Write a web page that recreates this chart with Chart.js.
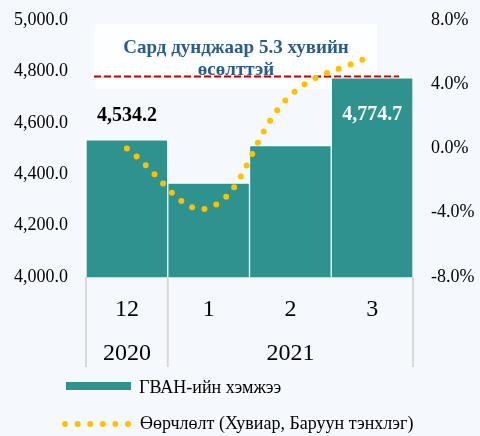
<!DOCTYPE html>
<html>
<head>
<meta charset="utf-8">
<script src="https://cdn.jsdelivr.net/npm/chart.js@4.4.1/dist/chart.umd.min.js"></script>
<style>
    html, body { margin: 0; padding: 0; background: #F5F8FC; }
    #wrap { width: 480px; height: 436px; }
</style>
</head>
<body>
<div id="wrap"><canvas id="gdpChart"></canvas></div>
<script>
// chart data
const months = ['12', '1', '2', '3'];
const yearGroups = ['2020', '2021'];
const yearSpans = [1, 3];              // how many months fall in each year
const gdpValues = [4534.2, 4365.0, 4511.0, 4774.7];
const changePct = [0.0, -3.7, 3.3, 5.8];
const avgLevel = 4780;
const noteLines = ['Сард дунджаар 5.3 хувийн', 'өсөлттэй'];
const seriesNames = ['ГВАН-ийн хэмжээ', 'Өөрчлөлт (Хувиар, Баруун тэнхлэг)'];

const SERIF = '"Liberation Serif", "DejaVu Serif", serif';
const TEAL = '#2E928E';
const GOLD = '#FFC000';

// white note box, dashed average line and its caption
const notePlugin = {
    id: 'note',
    beforeDatasetsDraw(chart) {
        const {ctx, chartArea, scales: {y}} = chart;
        const left = chartArea.left + 8;
        ctx.save();
        ctx.fillStyle = '#FDFEFF';
        ctx.fillRect(left, chartArea.top + 4, 283, 65);
        ctx.fillStyle = '#2B5B88';
        ctx.font = 'bold 19px ' + SERIF;
        ctx.textAlign = 'center';
        ctx.textBaseline = 'middle';
        ctx.fillText(noteLines[0], left + 142, chartArea.top + 28);
        ctx.fillText(noteLines[1], left + 142, chartArea.top + 50);
        const yAvg = y.getPixelForValue(avgLevel);
        ctx.strokeStyle = '#C00000';
        ctx.lineWidth = 2;
        ctx.setLineDash([7, 3]);
        ctx.beginPath();
        ctx.moveTo(left, yAvg);
        ctx.lineTo(chartArea.right - 14, yAvg);
        ctx.stroke();
        ctx.restore();
    }
};

// value labels on first and last bar
const valuePlugin = {
    id: 'values',
    afterDatasetsDraw(chart) {
        const {ctx} = chart;
        const meta = chart.getDatasetMeta(1);
        const fmt = v => v.toLocaleString('en-US', {minimumFractionDigits: 1, maximumFractionDigits: 1});
        ctx.save();
        ctx.font = 'bold 20px ' + SERIF;
        ctx.textAlign = 'center';
        ctx.textBaseline = 'middle';
        let bar = meta.data[0];
        ctx.fillStyle = '#000000';
        ctx.fillText(fmt(gdpValues[0]), bar.x, bar.y - 24);
        bar = meta.data[3];
        ctx.fillStyle = '#FFFFFF';
        ctx.fillText(fmt(gdpValues[3]), bar.x, bar.y + 37);
        ctx.restore();
    }
};

// year row under the month ticks, with separators
const yearAxisPlugin = {
    id: 'yearAxis',
    afterDraw(chart) {
        const {ctx, chartArea, scales: {x}} = chart;
        const half = (x.getPixelForValue(1) - x.getPixelForValue(0)) / 2;
        const top = chartArea.bottom;
        const bottom = x.bottom;
        const edges = [x.getPixelForValue(0) - half];
        ctx.save();
        ctx.fillStyle = '#000000';
        ctx.font = '24px ' + SERIF;
        ctx.textAlign = 'center';
        ctx.textBaseline = 'middle';
        let idx = 0;
        yearGroups.forEach((yr, i) => {
            const l = x.getPixelForValue(idx) - half;
            const r = x.getPixelForValue(idx + yearSpans[i] - 1) + half;
            ctx.fillText(yr, (l + r) / 2, top + 77);
            edges.push(r);
            idx += yearSpans[i];
        });
        ctx.strokeStyle = '#D9D9D9';
        ctx.lineWidth = 2;
        edges.forEach(ex => {
            ctx.beginPath();
            ctx.moveTo(ex, top);
            ctx.lineTo(ex, bottom);
            ctx.stroke();
        });
        ctx.restore();
    }
};

// legend drawn by hand: a bar swatch and a dotted line swatch
const legendPlugin = {
    id: 'handLegend',
    afterDraw(chart) {
        const {ctx} = chart;
        ctx.save();
        ctx.fillStyle = TEAL;
        ctx.fillRect(66, 382, 65, 8);
        ctx.fillStyle = GOLD;
        for (let i = 0; i < 6; i++) {
            ctx.beginPath();
            ctx.arc(65 + i * 12.6, 424, 3, 0, Math.PI * 2);
            ctx.fill();
        }
        ctx.fillStyle = '#000000';
        ctx.font = '18px ' + SERIF;
        ctx.textBaseline = 'middle';
        ctx.fillText(seriesNames[0], 139, 388);
        ctx.fillText(seriesNames[1], 140, 424);
        ctx.restore();
    }
};

// keep the value axes from pushing the plot area down
const fitValueAxis = width => s => {
    s.width = width;
    s.paddingTop = 8;
    s.paddingBottom = 8;
};

const ctx1 = document.getElementById('gdpChart');
const gdpChart = new Chart(ctx1, {
    type: 'bar',
    data: {
        labels: months,
        datasets: [{
            type: 'line',
            label: seriesNames[1],
            data: changePct,
            yAxisID: 'y1',
            borderColor: GOLD,
            borderWidth: 6,
            borderDash: [0, 12.6],
            borderCapStyle: 'round',
            pointRadius: 0,
            tension: 0.4,
            fill: false,
            order: 1
        }, {
            type: 'bar',
            label: seriesNames[0],
            data: gdpValues,
            yAxisID: 'y',
            backgroundColor: TEAL,
            borderColor: '#FFFFFF',
            borderWidth: 1,
            borderSkipped: false,
            barPercentage: 1,
            categoryPercentage: 1,
            order: 2
        }]
    },
    plugins: [notePlugin, valuePlugin, yearAxisPlugin, legendPlugin],
    options: {
        responsive: true,
        maintainAspectRatio: false,
        animation: false,
        layout: {padding: {top: 20, bottom: 69, left: 0, right: 0}},
        plugins: {
            legend: {display: false},
            tooltip: {enabled: false}
        },
        scales: {
            x: {
                grid: {display: false, drawTicks: false},
                border: {display: true, color: '#D9D9D9', width: 1},
                ticks: {color: '#000000', font: {family: SERIF, size: 24}, padding: 18, maxRotation: 0},
                afterFit: s => { s.height = 90; }
            },
            y: {
                position: 'left',
                min: 4000,
                max: 5000,
                grid: {display: false, drawTicks: false},
                border: {display: false},
                ticks: {
                    stepSize: 200,
                    color: '#000000',
                    font: {family: SERIF, size: 18},
                    padding: 18,
                    callback: v => v.toLocaleString('en-US', {minimumFractionDigits: 1, maximumFractionDigits: 1})
                },
                afterFit: fitValueAxis(86)
            },
            y1: {
                position: 'right',
                min: -8,
                max: 8,
                grid: {display: false, drawTicks: false},
                border: {display: false},
                ticks: {
                    stepSize: 4,
                    color: '#000000',
                    font: {family: SERIF, size: 18},
                    padding: 18,
                    callback: v => v.toFixed(1) + '%'
                },
                afterFit: fitValueAxis(67)
            }
        }
    }
});
</script>
</body>
</html>
